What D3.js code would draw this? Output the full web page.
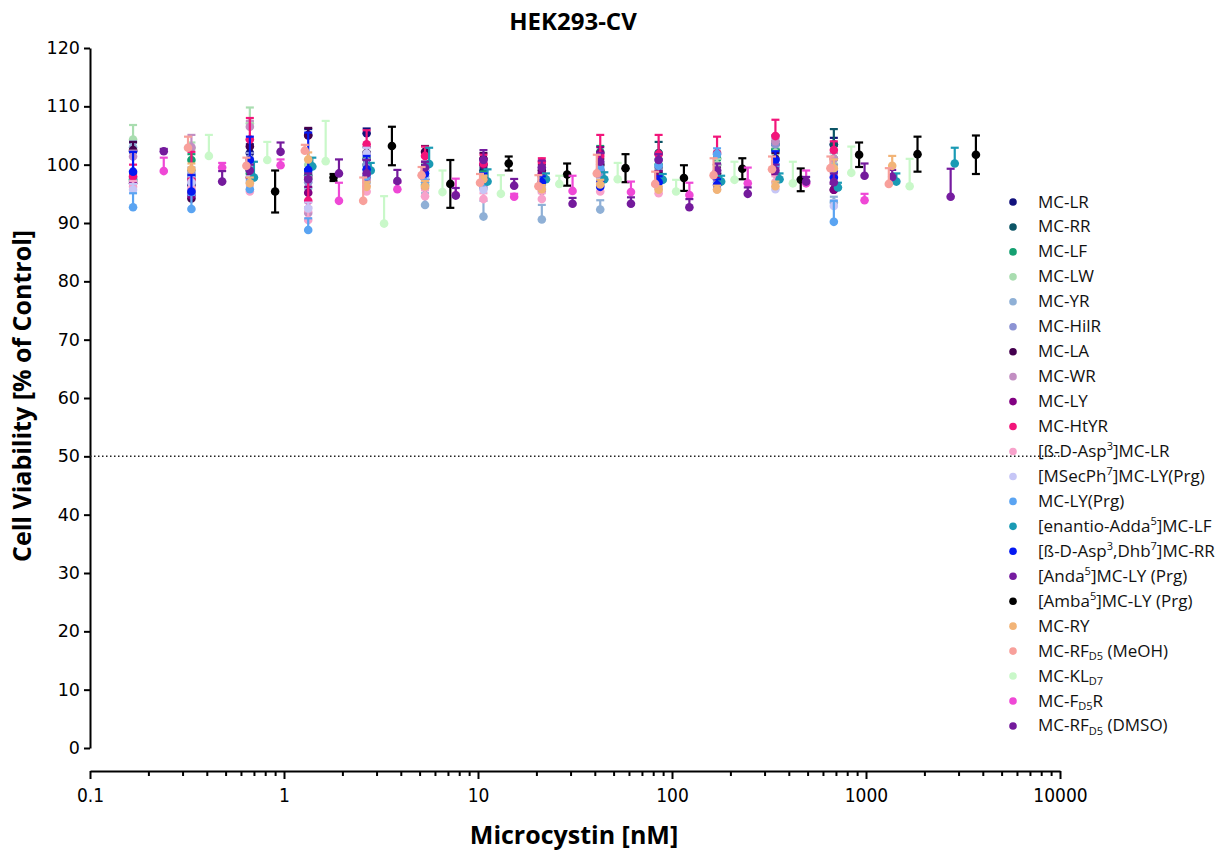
<!DOCTYPE html>
<html>
<head>
<meta charset="utf-8">
<script src="https://cdn.jsdelivr.net/npm/d3@7"></script>
<style>
  body { margin: 0; background: #fff; }
  svg { display: block; }
</style>
</head>
<body>
<svg id="chart" width="1231" height="852"></svg>
<script>
// ---- concentration series (nM), two-fold dilutions ----
const concA     = [0.1667, 0.3333, 0.6667, 1.333, 2.667, 5.333, 10.67, 21.33, 42.67, 85.33, 170.7, 341.3, 682.7];
const concRY    = [0.3333, 0.6667, 1.333, 2.667, 5.333, 10.67, 21.33, 42.67, 85.33, 170.7, 341.3, 682.7, 1365];
const concMeOH  = [0.32, 0.64, 1.28, 2.56, 5.12, 10.24, 20.48, 40.96, 81.92, 163.8, 327.7, 655.4, 1311];
const concEnant = [0.7, 1.4, 2.8, 5.6, 11.2, 22.4, 44.8, 89.6, 179.2, 358.4, 716.8, 1434, 2867];
const concAnda  = [0.6667, 1.333, 2.667, 5.333, 10.67, 21.33, 42.67, 85.33, 170.7, 341.3, 682.7, 1365, 2731];
const concDMSO  = [0.24, 0.48, 0.96, 1.92, 3.84, 7.68, 15.36, 30.72, 61.44, 122.9, 245.8, 491.5, 983.0];
const concKL    = [0.41, 0.82, 1.64, 3.28, 6.56, 13.12, 26.24, 52.48, 105.0, 209.9, 419.8, 839.7, 1679];
const concAmba  = [0.9, 1.8, 3.6, 7.2, 14.4, 28.8, 57.6, 115.2, 230.4, 460.8, 921.6, 1843, 3686];

// ---- cell viability, % of control (mean and SD) ----
const mcLR      = [102.3, 96.5, 102.0, 105.1, 105.4, 97.5, 99.0, 97.0, 98.0, 98.0, 97.5, 103.5, 103.4];
const mcLR_sd   = [1.5, 1.0, 1.5, 1.0, 0.8, 1.0, 1.0, 1.0, 1.0, 1.0, 1.0, 1.5, 1.2];
const mcRR      = [97.2, 98.0, 99.0, 98.2, 101.0, 99.0, 98.5, 97.0, 99.0, 102.0, 100.0, 102.5, 103.5];
const mcRR_sd   = [1.2, 1.0, 1.3, 1.0, 1.2, 1.0, 1.0, 1.0, 1.0, 1.9, 1.2, 1.5, 2.6];
const mcLF      = [97.5, 100.8, 98.5, 97.7, 100.0, 96.5, 98.0, 96.5, 102.2, 100.0, 101.0, 102.5, 101.0];
const mcLF_sd   = [1.0, 1.0, 1.2, 1.0, 1.0, 1.0, 0.8, 1.0, 1.0, 1.0, 1.2, 1.0, 1.0];
const mcLW      = [104.3, 102.8, 107.1, 100.0, 98.0, 98.0, 97.5, 97.0, 100.0, 98.5, 100.0, 102.0, 100.0];
const mcLW_sd   = [2.5, 1.0, 2.7, 1.0, 1.0, 1.0, 1.0, 1.0, 1.0, 1.0, 1.0, 1.0, 1.0];
const mcYR      = [103.0, 97.0, 100.0, 96.0, 97.0, 93.1, 91.1, 90.6, 92.3, 97.0, 97.0, 100.0, 93.5];
const mcYR_sd   = [1.0, 1.0, 1.0, 1.0, 1.0, 2.0, 2.7, 2.5, 1.6, 1.0, 1.0, 1.0, 1.0];
const mcHilR    = [97.8, 98.5, 101.0, 97.0, 100.0, 97.5, 96.0, 96.0, 98.0, 98.0, 97.5, 103.5, 99.0];
const mcHilR_sd = [1.0, 1.0, 1.0, 1.0, 1.0, 1.0, 1.0, 1.0, 1.0, 1.0, 1.0, 1.0, 1.0];
const mcLA      = [102.5, 94.2, 103.1, 105.0, 102.0, 102.2, 101.0, 99.0, 100.0, 98.5, 98.5, 101.0, 95.7];
const mcLA_sd   = [1.4, 1.0, 1.2, 1.3, 1.0, 1.0, 1.0, 1.0, 1.0, 1.0, 1.0, 1.0, 1.0];
const mcWR      = [101.4, 103.0, 106.5, 91.7, 97.5, 96.0, 96.5, 95.5, 97.0, 96.0, 99.0, 104.0, 101.0];
const mcWR_sd   = [1.0, 2.1, 1.0, 1.0, 1.0, 1.0, 1.0, 1.0, 1.0, 1.0, 1.0, 1.0, 1.0];
const mcLY      = [96.8, 94.7, 97.8, 95.2, 98.0, 99.5, 100.0, 98.5, 102.0, 97.9, 97.9, 98.5, 95.7];
const mcLY_sd   = [1.0, 1.0, 2.7, 1.0, 2.8, 1.0, 1.0, 1.0, 1.0, 1.0, 1.0, 1.0, 1.0];
const mcHtYR    = [98.0, 97.4, 104.3, 93.8, 103.5, 101.5, 100.2, 100.5, 101.5, 101.8, 102.0, 104.9, 102.5];
const mcHtYR_sd = [2.0, 4.8, 3.7, 4.0, 2.4, 1.6, 1.5, 0.6, 3.6, 3.3, 2.8, 2.8, 1.5];
const aspLR     = [96.2, 96.0, 95.4, 90.5, 95.4, 94.6, 94.1, 94.1, 95.4, 95.1, 96.5, 97.0, 98.0];
const aspLR_sd  = [1.0, 1.0, 1.0, 1.5, 1.0, 1.0, 1.0, 1.0, 1.0, 1.0, 1.0, 1.0, 1.0];
const msecLY    = [95.7, 97.0, 97.0, 92.5, 101.9, 98.0, 95.7, 96.0, 96.5, 96.0, 95.8, 95.8, 92.9];
const msecLY_sd = [1.0, 1.0, 1.0, 1.0, 1.0, 1.0, 1.0, 1.0, 1.0, 1.0, 1.0, 1.0, 1.0];
const lyPrg     = [92.7, 92.4, 95.8, 88.8, 98.0, 97.0, 97.0, 97.0, 99.4, 99.8, 101.8, 100.0, 90.2];
const lyPrg_sd  = [2.4, 2.4, 1.5, 2.0, 1.0, 1.0, 1.0, 1.0, 1.0, 1.0, 1.0, 1.0, 3.6];
const enantLF   = [97.8, 99.7, 99.0, 100.1, 97.1, 97.5, 97.5, 97.4, 97.1, 97.5, 96.1, 97.1, 100.2];
const enantLF_sd= [2.7, 1.5, 1.3, 2.8, 2.1, 1.0, 1.2, 1.0, 1.0, 1.0, 0.8, 1.4, 2.7];
const dhbRR     = [98.8, 95.4, 100.8, 99.1, 99.2, 98.5, 97.5, 97.0, 96.2, 97.0, 96.5, 100.8, 97.8];
const dhbRR_sd  = [3.4, 2.8, 4.0, 6.4, 2.3, 1.0, 1.0, 1.0, 1.0, 1.0, 1.0, 1.5, 1.0];
const andaLY    = [99.0, 97.5, 98.5, 99.5, 100.8, 99.5, 100.5, 100.8, 99.0, 99.0, 97.0, 97.9, 94.5];
const andaLY_sd = [1.0, 1.0, 2.3, 1.0, 1.7, 1.2, 1.5, 1.0, 1.2, 1.0, 1.5, 1.2, 4.8];
const ambaLY    = [95.4, 97.8, 103.2, 96.7, 100.2, 98.3, 99.4, 97.7, 99.3, 97.4, 101.7, 101.8, 101.7];
const ambaLY_sd = [3.6, 0.6, 3.3, 4.1, 1.2, 1.9, 2.4, 2.2, 1.8, 1.95, 2.1, 3.0, 3.3];
const mcRY      = [99.2, 96.8, 100.9, 96.2, 96.3, 97.5, 95.8, 96.6, 95.7, 95.7, 96.3, 99.4, 99.8];
const mcRY_sd   = [1.0, 1.0, 1.2, 0.8, 0.9, 0.6, 0.7, 0.8, 0.6, 0.7, 0.8, 1.5, 1.7];
const rfMeOH    = [102.9, 99.8, 102.4, 93.8, 98.2, 96.9, 96.3, 98.5, 96.7, 98.2, 99.2, 99.4, 96.7];
const rfMeOH_sd = [1.9, 1.4, 1.0, 4.0, 1.4, 1.5, 1.9, 3.2, 2.1, 2.9, 2.2, 2.0, 2.7];
const klD7      = [101.5, 100.8, 100.6, 89.9, 95.3, 95.0, 96.7, 97.5, 95.4, 97.4, 96.8, 98.6, 96.3];
const klD7_sd   = [3.6, 3.1, 6.9, 4.7, 3.7, 3.2, 1.4, 2.8, 2.0, 3.1, 3.7, 4.5, 4.7];
const fD5R      = [98.9, 99.5, 99.9, 93.8, 95.8, 94.8, 94.5, 95.5, 95.3, 94.8, 96.8, 96.8, 93.9];
const fD5R_sd   = [2.3, 0.8, 1.0, 3.1, 1.1, 2.8, 0.5, 2.6, 1.8, 2.1, 2.7, 2.2, 1.1];
const rfDMSO    = [102.3, 97.1, 102.2, 98.5, 97.2, 94.7, 96.4, 93.3, 93.3, 92.7, 95.0, 97.1, 98.1];
const rfDMSO_sd = [0.4, 1.8, 1.6, 2.4, 1.9, 1.3, 1.15, 1.0, 1.1, 1.4, 1.1, 0.8, 2.1];

// ---- legend names (^{..} superscript, _{..} subscript) and colours ----
const seriesNames = [
  "MC-LR", "MC-RR", "MC-LF", "MC-LW", "MC-YR", "MC-HilR", "MC-LA", "MC-WR", "MC-LY", "MC-HtYR",
  "[ß-D-Asp^{3}]MC-LR", "[MSecPh^{7}]MC-LY(Prg)", "MC-LY(Prg)", "[enantio-Adda^{5}]MC-LF",
  "[ß-D-Asp^{3},Dhb^{7}]MC-RR", "[Anda^{5}]MC-LY (Prg)", "[Amba^{5}]MC-LY (Prg)", "MC-RY",
  "MC-RF_{D5} (MeOH)", "MC-KL_{D7}", "MC-F_{D5}R", "MC-RF_{D5} (DMSO)"
];
const seriesColors = [
  "#12127c", "#0c5566", "#15a071", "#a9ddb0", "#8fb0d6", "#8c93d3", "#44004e", "#c28ec2", "#820082", "#f2157a",
  "#f8a2cb", "#c6c6f6", "#5aa4f2", "#1a9ab4", "#0418f2", "#761ca0", "#000000", "#f2b477",
  "#f8a09b", "#c9f8c9", "#ef48d6", "#741a9c"
];

// ---- axis ticks ----
const yTicks = [0, 10, 20, 30, 40, 50, 60, 70, 80, 90, 100, 110, 120];
const xTickLabels = ["0.1", "1", "10", "100", "1000", "10000"];
const refLine = 50;

const seriesList = [
  [concA, mcLR, mcLR_sd], [concA, mcRR, mcRR_sd], [concA, mcLF, mcLF_sd], [concA, mcLW, mcLW_sd],
  [concA, mcYR, mcYR_sd], [concA, mcHilR, mcHilR_sd], [concA, mcLA, mcLA_sd], [concA, mcWR, mcWR_sd],
  [concA, mcLY, mcLY_sd], [concA, mcHtYR, mcHtYR_sd], [concA, aspLR, aspLR_sd], [concA, msecLY, msecLY_sd],
  [concA, lyPrg, lyPrg_sd], [concEnant, enantLF, enantLF_sd], [concA, dhbRR, dhbRR_sd],
  [concAnda, andaLY, andaLY_sd], [concAmba, ambaLY, ambaLY_sd], [concRY, mcRY, mcRY_sd],
  [concMeOH, rfMeOH, rfMeOH_sd], [concKL, klD7, klD7_sd], [concDMSO, fD5R, fD5R_sd], [concDMSO, rfDMSO, rfDMSO_sd]
].map(([conc, mean, sd], i) => ({
  name: seriesNames[i],
  color: seriesColors[i],
  twoSided: seriesNames[i].startsWith("[Amba"),
  points: conc.map((c, j) => ({ c, m: mean[j], e: sd[j] }))
}));

// ---- layout ----
const svg = d3.select("#chart");
const x = d3.scaleLog().domain([0.1, 10000]).range([90, 1060]);
const y = d3.scaleLinear().domain([0, 120]).range([748, 48]);
const xAxisY = 771;
const tickFont = "'Liberation Sans Narrow', 'DejaVu Sans Condensed', 'Open Sans', sans-serif";

// title
svg.append("text")
  .attr("x", 573).attr("y", 30)
  .attr("text-anchor", "middle")
  .style("font-family", "'Open Sans', sans-serif")
  .style("font-weight", 700).style("font-size", "24px")
  .text("HEK293-CV");

// y axis
const yAxis = svg.append("g")
  .attr("transform", "translate(90,0)")
  .call(d3.axisLeft(y).tickValues(yTicks).tickSize(6).tickSizeOuter(0).tickPadding(4));
yAxis.select(".domain").attr("stroke", "#000").attr("stroke-width", 2);
yAxis.selectAll(".tick line").attr("stroke", "#000").attr("stroke-width", 2);
yAxis.selectAll(".tick text")
  .style("font-family", "'DejaVu Sans', sans-serif").style("font-size", "17.5px").attr("fill", "#000");

// x axis (log, with minor ticks)
const xAllTicks = x.ticks();
const isMajor = d => Math.abs(Math.log10(d) - Math.round(Math.log10(d))) < 1e-9;
const xAxis = svg.append("g")
  .attr("transform", `translate(0,${xAxisY})`)
  .call(d3.axisBottom(x).tickValues(xAllTicks).tickSize(8).tickSizeOuter(0).tickPadding(10)
    .tickFormat(d => isMajor(d) ? xTickLabels[Math.round(Math.log10(d)) + 1] : ""));
xAxis.select(".domain").attr("stroke", "#000").attr("stroke-width", 2);
xAxis.selectAll(".tick line").attr("stroke", "#000").attr("stroke-width", 2)
  .attr("y2", d => isMajor(d) ? 8 : 5);
xAxis.selectAll(".tick text")
  .style("font-family", tickFont).style("font-size", "19px").attr("fill", "#000");

// axis titles
svg.append("text")
  .attr("x", 574).attr("y", 844)
  .attr("text-anchor", "middle")
  .style("font-family", "'Open Sans', sans-serif")
  .style("font-weight", 700).style("font-size", "25px")
  .text("Microcystin [nM]");
svg.append("text")
  .attr("transform", "translate(31,396) rotate(-90)")
  .attr("text-anchor", "middle")
  .style("font-family", "'Open Sans', sans-serif")
  .style("font-weight", 700).style("font-size", "25px")
  .text("Cell Viability [% of Control]");

// 50 % reference line
svg.append("line")
  .attr("x1", x(0.1)).attr("x2", x(10000))
  .attr("y1", y(refLine)).attr("y2", y(refLine))
  .attr("stroke", "#222").attr("stroke-width", 1.5)
  .attr("stroke-dasharray", "1.5 2.5");

// data: error bars and points per series
const capHalf = 4;
const gSeries = svg.append("g").selectAll("g.series")
  .data(seriesList).join("g").attr("class", "series");

gSeries.each(function (s) {
  const g = d3.select(this);
  const bars = g.selectAll("g.err").data(s.points).join("g").attr("class", "err")
    .attr("stroke", s.color).attr("stroke-width", 2.2);
  bars.append("line")
    .attr("x1", d => x(d.c)).attr("x2", d => x(d.c))
    .attr("y1", d => y(s.twoSided ? d.m - d.e : d.m))
    .attr("y2", d => y(d.m + d.e));
  bars.append("line")
    .attr("x1", d => x(d.c) - capHalf).attr("x2", d => x(d.c) + capHalf)
    .attr("y1", d => y(d.m + d.e)).attr("y2", d => y(d.m + d.e));
  if (s.twoSided) {
    bars.append("line")
      .attr("x1", d => x(d.c) - capHalf).attr("x2", d => x(d.c) + capHalf)
      .attr("y1", d => y(d.m - d.e)).attr("y2", d => y(d.m - d.e));
  }
  g.selectAll("circle").data(s.points).join("circle")
    .attr("cx", d => x(d.c)).attr("cy", d => y(d.m))
    .attr("r", 4.3).attr("fill", s.color);
});

// legend
const legendX = 1013, legendTop = 202, legendStep = 24.95;
const legend = svg.append("g").selectAll("g.leg")
  .data(seriesList).join("g").attr("class", "leg")
  .attr("transform", (d, i) => `translate(${legendX},${legendTop + i * legendStep})`);
legend.append("circle").attr("r", 3.8).attr("fill", d => d.color);

function richLabel(textSel, label) {
  const parts = label.split(/(\^\{[^}]*\}|_\{[^}]*\})/).filter(p => p.length);
  let shift = 0;
  parts.forEach(p => {
    let kind = "n", t = p;
    if (p.startsWith("^{")) { kind = "sup"; t = p.slice(2, -1); }
    else if (p.startsWith("_{")) { kind = "sub"; t = p.slice(2, -1); }
    const target = kind === "sup" ? -7 : kind === "sub" ? 3.5 : 0;
    const ts = textSel.append("tspan").text(t).attr("dy", target - shift);
    if (kind !== "n") ts.style("font-size", "11px");
    shift = target;
  });
}
legend.append("text")
  .attr("x", 25).attr("y", 5.5)
  .style("font-family", "'Open Sans', sans-serif").style("font-size", "17px")
  .attr("fill", "#111")
  .each(function (d) { richLabel(d3.select(this), d.name); });
</script>
</body>
</html>
